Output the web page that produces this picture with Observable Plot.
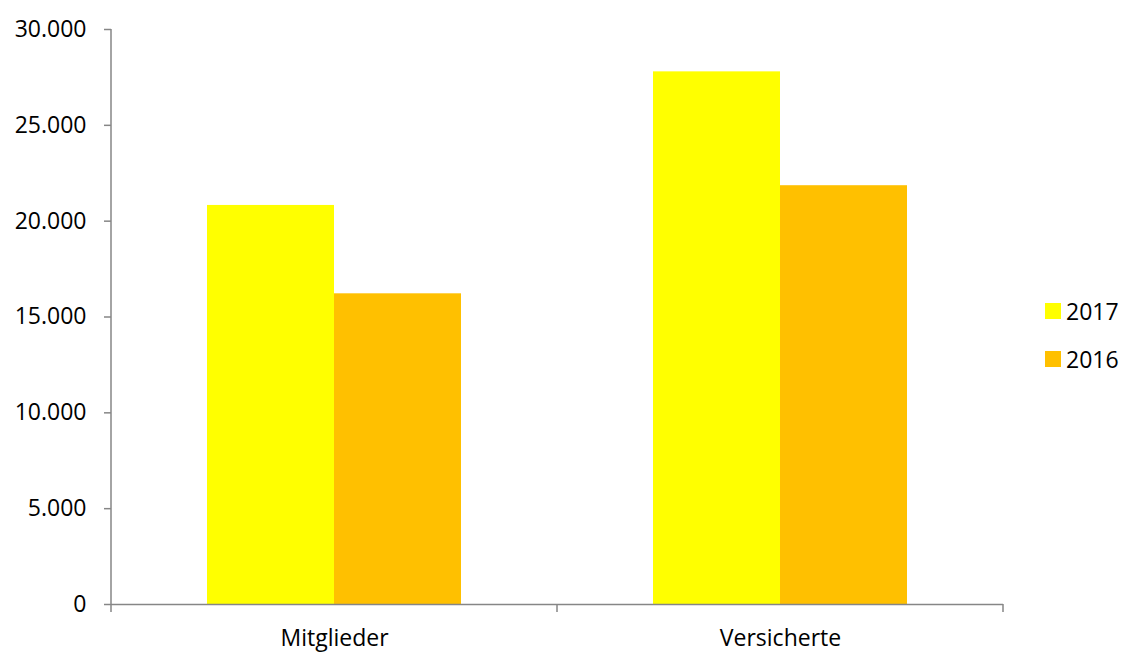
<!DOCTYPE html>
<html>
<head>
<meta charset="utf-8">
<script src="https://cdn.jsdelivr.net/npm/d3@7"></script>
<script src="https://cdn.jsdelivr.net/npm/@observablehq/plot@0.6"></script>
<style>
  html, body { margin: 0; padding: 0; background: #fff; }
  #wrap { position: relative; width: 1124px; height: 652px; font-family: "Open Sans", sans-serif; }
  .legend { position: absolute; left: 1045px; font-size: 23px; color: #000; }
  .legend .row { position: absolute; left: 0; display: flex; align-items: center; white-space: nowrap; }
  .legend .sw { width: 16px; height: 16px; margin-right: 5px; }
</style>
</head>
<body>
<div id="wrap"></div>
<script>
const categories = ["Mitglieder", "Versicherte"];
const years = ["2017", "2016"];
const values2017 = [20820, 27790];
const values2016 = [16210, 21850];
const yTicks = [0, 5000, 10000, 15000, 20000, 25000, 30000];
const colors = ["#FFFF00", "#FFC000"];

const data = categories.flatMap((c, i) => [
  {category: c, year: years[0], value: values2017[i]},
  {category: c, year: years[1], value: values2016[i]}
]);

const de = d3.formatLocale({decimal: ",", thousands: ".", grouping: [3], currency: ["", " €"]});
const fmt = de.format(",");

const plot = Plot.plot({
  width: 1124,
  height: 652,
  marginLeft: 111,
  marginRight: 121,
  marginTop: 29,
  marginBottom: 48,
  style: {fontFamily: "Open Sans", fontSize: "23px", color: "black", background: "white", overflow: "visible"},
  fx: {domain: categories, paddingInner: 0, paddingOuter: 0, label: null},
  x: {domain: years, paddingInner: 0, paddingOuter: 0.75, axis: null},
  y: {domain: [0, 30000], label: null},
  color: {domain: years, range: colors},
  marks: [
    Plot.barY(data, {fx: "category", x: "year", y: "value", fill: "year"}),
    Plot.ruleY([0], {stroke: "#868686", strokeWidth: 1.5}),
    Plot.axisY({ticks: yTicks, tickFormat: fmt, tickSize: 7, tickPadding: 18, stroke: "#868686", fill: "black", strokeWidth: 1.5, label: null}),
    Plot.axisFx({anchor: "bottom", tickSize: 0, tickPadding: 25, label: null, fill: "black"})
  ]
});

document.getElementById("wrap").appendChild(plot);

// axis line and category boundary ticks, derived from Plot's scales
const fxS = plot.scale("fx");
const yS = plot.scale("y");
const svg = d3.select(plot);
const y0 = yS.apply(0), yTop = yS.apply(30000);
const starts = categories.map(c => fxS.apply(c));
const bounds = [...starts, starts[starts.length - 1] + fxS.bandwidth];
const g = svg.append("g").attr("stroke", "#868686").attr("stroke-width", 1.5);
g.append("line").attr("x1", bounds[0]).attr("x2", bounds[0]).attr("y1", yTop).attr("y2", y0);
bounds.forEach(b => g.append("line").attr("x1", b).attr("x2", b).attr("y1", y0).attr("y2", y0 + 8));

// legend
const legend = document.createElement("div");
legend.className = "legend";
years.forEach((yr, i) => {
  const row = document.createElement("div");
  row.className = "row";
  row.style.top = (295 + i * 48) + "px";
  row.innerHTML = `<div class="sw" style="background:${colors[i]}"></div><span>${yr}</span>`;
  legend.appendChild(row);
});
legend.style.top = "0px";
document.getElementById("wrap").appendChild(legend);
</script>
</body>
</html>
